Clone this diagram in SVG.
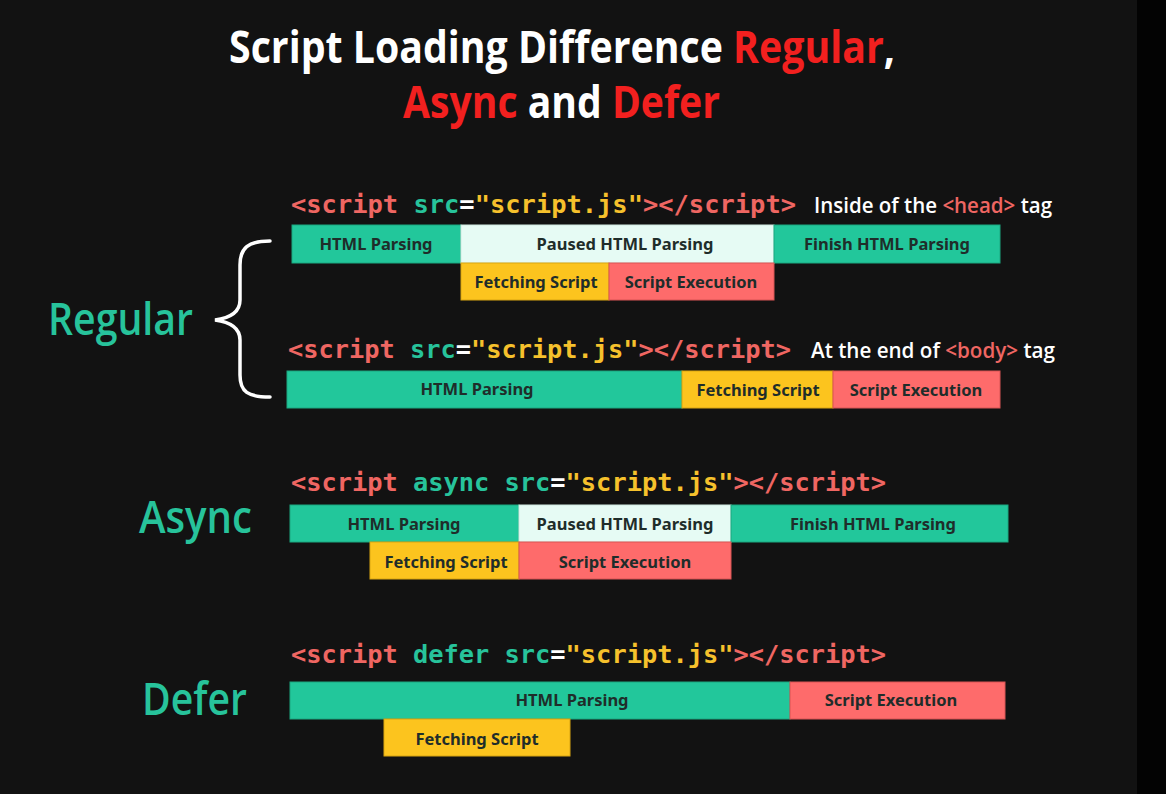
<svg xmlns="http://www.w3.org/2000/svg" width="1166" height="794" viewBox="0 0 1166 794">
<style>
.title{font-family:"Open Sans","Liberation Sans",sans-serif;font-weight:700;font-size:44px;fill:#ffffff}
.red{fill:#f2201f}
.code{font-family:"DejaVu Sans Mono","Liberation Mono",monospace;font-weight:700;font-size:25.5px}
.pk{fill:#ef6662}
.gr{fill:#27c39b}
.yl{fill:#f6c12c}
.wh{fill:#ffffff}
.note{font-family:"Open Sans","Liberation Sans",sans-serif;font-weight:600;font-size:22px;fill:#ffffff}
.big{font-family:"Open Sans","Liberation Sans",sans-serif;font-weight:600;font-size:46px;fill:#27c39b}
.bt{font-family:"Noto Sans","Open Sans",sans-serif;font-weight:700;font-size:16.5px;fill:#1f2d2a;text-anchor:middle}
.g{fill:#22c79b;stroke:#1aa880;stroke-width:1}
.p{fill:#e6fbf4;stroke:#cfe9e0;stroke-width:1}
.y{fill:#fcc41e;stroke:#d9a510;stroke-width:1}
.r{fill:#fe6b6b;stroke:#d95555;stroke-width:1}
</style>
<rect x="0" y="0" width="1166" height="794" fill="#121212"/>
<rect x="1137" y="0" width="29" height="794" fill="#030303"/>

<g id="title">
<text class="title" x="229" y="63" textLength="666" lengthAdjust="spacingAndGlyphs">Script Loading Difference <tspan class="red">Regular</tspan>,</text>
<text class="title" x="403" y="118" textLength="317" lengthAdjust="spacingAndGlyphs"><tspan class="red">Async</tspan> and <tspan class="red">Defer</tspan></text>
</g>

<g id="label-regular">
<text class="big" x="48" y="335" textLength="145" lengthAdjust="spacingAndGlyphs">Regular</text>
<path d="M270,241 C248,241 240,248 240,265 L240,300 C240,312 230,318 215,320 C230,322 240,328 240,340 L240,375 C240,392 248,397 270,397" fill="none" stroke="#ffffff" stroke-width="3.5" stroke-linecap="round"/>
</g>
<g id="label-async"><text class="big" x="139" y="533" textLength="113" lengthAdjust="spacingAndGlyphs">Async</text></g>
<g id="label-defer"><text class="big" x="142" y="715" textLength="105" lengthAdjust="spacingAndGlyphs">Defer</text></g>

<g id="regular-head">
<text class="code" x="291" y="213" textLength="505" lengthAdjust="spacingAndGlyphs"><tspan class="pk">&lt;script </tspan><tspan class="gr">src</tspan><tspan class="wh">=</tspan><tspan class="yl">"script.js"</tspan><tspan class="pk">&gt;&lt;/script&gt;</tspan></text>
<text class="note" x="814" y="213" textLength="238" lengthAdjust="spacingAndGlyphs">Inside of the <tspan class="pk">&lt;head&gt;</tspan> tag</text>
<rect class="g" x="292" y="225" width="169" height="38"/><text class="bt" x="376" y="250">HTML Parsing</text>
<rect class="p" x="461" y="225" width="313" height="38"/><text class="bt" x="625" y="250">Paused HTML Parsing</text>
<rect class="g" x="774" y="225" width="226" height="38"/><text class="bt" x="887" y="250">Finish HTML Parsing</text>
<rect class="y" x="461" y="263" width="148" height="37"/><text class="bt" x="536" y="288">Fetching Script</text>
<rect class="r" x="609" y="263" width="165" height="37"/><text class="bt" x="691" y="288">Script Execution</text>
</g>

<g id="regular-body">
<text class="code" x="288" y="358" textLength="503" lengthAdjust="spacingAndGlyphs"><tspan class="pk">&lt;script </tspan><tspan class="gr">src</tspan><tspan class="wh">=</tspan><tspan class="yl">"script.js"</tspan><tspan class="pk">&gt;&lt;/script&gt;</tspan></text>
<text class="note" x="811" y="358" textLength="244" lengthAdjust="spacingAndGlyphs">At the end of <tspan class="pk">&lt;body&gt;</tspan> tag</text>
<rect class="g" x="287" y="371" width="395" height="37"/><text class="bt" x="477" y="395">HTML Parsing</text>
<rect class="y" x="682" y="371" width="151" height="37"/><text class="bt" x="758" y="396">Fetching Script</text>
<rect class="r" x="833" y="371" width="167" height="37"/><text class="bt" x="916" y="396">Script Execution</text>
</g>

<g id="async">
<text class="code" x="291" y="491" textLength="595" lengthAdjust="spacingAndGlyphs"><tspan class="pk">&lt;script </tspan><tspan class="gr">async src</tspan><tspan class="wh">=</tspan><tspan class="yl">"script.js"</tspan><tspan class="pk">&gt;&lt;/script&gt;</tspan></text>
<rect class="g" x="290" y="505" width="229" height="37"/><text class="bt" x="404" y="530">HTML Parsing</text>
<rect class="p" x="519" y="505" width="212" height="37"/><text class="bt" x="625" y="530">Paused HTML Parsing</text>
<rect class="g" x="731" y="505" width="277" height="37"/><text class="bt" x="873" y="530">Finish HTML Parsing</text>
<rect class="y" x="370" y="542" width="149" height="37"/><text class="bt" x="446" y="568">Fetching Script</text>
<rect class="r" x="519" y="542" width="212" height="37"/><text class="bt" x="625" y="568">Script Execution</text>
</g>

<g id="defer">
<text class="code" x="291" y="663" textLength="595" lengthAdjust="spacingAndGlyphs"><tspan class="pk">&lt;script </tspan><tspan class="gr">defer src</tspan><tspan class="wh">=</tspan><tspan class="yl">"script.js"</tspan><tspan class="pk">&gt;&lt;/script&gt;</tspan></text>
<rect class="g" x="290" y="682" width="500" height="37"/><text class="bt" x="572" y="706">HTML Parsing</text>
<rect class="r" x="790" y="682" width="215" height="37"/><text class="bt" x="891" y="706">Script Execution</text>
<rect class="y" x="384" y="719" width="186" height="37"/><text class="bt" x="477" y="745">Fetching Script</text>
</g>
</svg>
